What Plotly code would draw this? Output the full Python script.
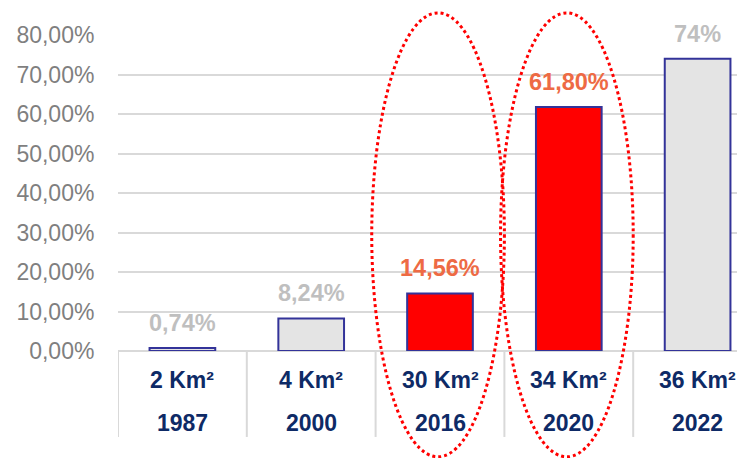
import plotly.graph_objects as go

areas = ["2 Km²", "4 Km²", "30 Km²", "34 Km²", "36 Km²"]
years = ["1987", "2000", "2016", "2020", "2022"]
values = [0.74, 8.24, 14.56, 61.80, 74.0]
value_labels = ["0,74%", "8,24%", "14,56%", "61,80%", "74%"]
highlighted = [False, False, True, True, False]
y_ticks = [0, 10, 20, 30, 40, 50, 60, 70, 80]
y_tick_labels = ["0,00%", "10,00%", "20,00%", "30,00%", "40,00%",
                 "50,00%", "60,00%", "70,00%", "80,00%"]

RED = "#FF0000"
LIGHT = "#E4E4E4"
NAVY = "#333399"
ORANGE = "#EE6A44"
LABEL_GRAY = "#BFBFBF"
TEXT_NAVY = "#0E2A66"
GRID = "#D9D9D9"
FONT = "Liberation Sans, Arial, sans-serif"

xs = list(range(len(years)))
fig = go.Figure()
fig.add_trace(go.Bar(
    x=xs, y=values, width=0.51,
    marker=dict(color=[RED if h else LIGHT for h in highlighted],
                line=dict(color=NAVY, width=2)),
    hoverinfo="skip",
))

# value labels
for i, (v, lab, h) in enumerate(zip(values, value_labels, highlighted)):
    fig.add_annotation(x=i, y=v, xref="x", yref="y", text=f"<b>{lab}</b>",
                       showarrow=False, yanchor="bottom", yshift=10,
                       font=dict(family=FONT, size=23.5,
                                 color=ORANGE if h else LABEL_GRAY))

# two-row category labels
for i, (a, yr) in enumerate(zip(areas, years)):
    fig.add_annotation(x=i, y=-0.092, xref="x", yref="paper", text=f"<b>{a}</b>",
                       showarrow=False, yanchor="middle",
                       font=dict(family=FONT, size=23, color=TEXT_NAVY))
    fig.add_annotation(x=i, y=-0.228, xref="x", yref="paper", text=f"<b>{yr}</b>",
                       showarrow=False, yanchor="middle",
                       font=dict(family=FONT, size=23, color=TEXT_NAVY))

# category dividers
for i in range(len(years) + 1):
    fig.add_shape(type="line", xref="x", yref="paper", x0=i - 0.5, x1=i - 0.5,
                  y0=0, y1=-0.272, line=dict(color=GRID, width=2), layer="below")

# dotted ellipses around highlighted categories
for i, h in enumerate(highlighted):
    if h:
        fig.add_shape(type="circle", xref="x", yref="paper",
                      x0=i - 0.53, x1=i + 0.5, y0=-0.335, y1=1.07,
                      line=dict(color=RED, width=3, dash="dot"), layer="above")

fig.update_layout(
    width=737, height=450,
    margin=dict(l=110, r=0, t=27, b=107),
    paper_bgcolor="white", plot_bgcolor="white",
    showlegend=False,
    font=dict(family=FONT),
)
fig.update_xaxes(range=[-0.5, 4.368], showticklabels=False, showgrid=False,
                 zeroline=False, showline=False, fixedrange=True)
fig.update_yaxes(range=[0, 80], tickvals=y_ticks, ticktext=y_tick_labels,
                 showgrid=True, gridcolor=GRID, gridwidth=2,
                 zeroline=True, zerolinecolor=GRID, zerolinewidth=2,
                 ticks="outside", ticklen=18, tickcolor="rgba(0,0,0,0)",
                 tickfont=dict(family=FONT, size=23, color="#7F7F7F"),
                 showline=False, fixedrange=True)

fig.write_html("out.html")
